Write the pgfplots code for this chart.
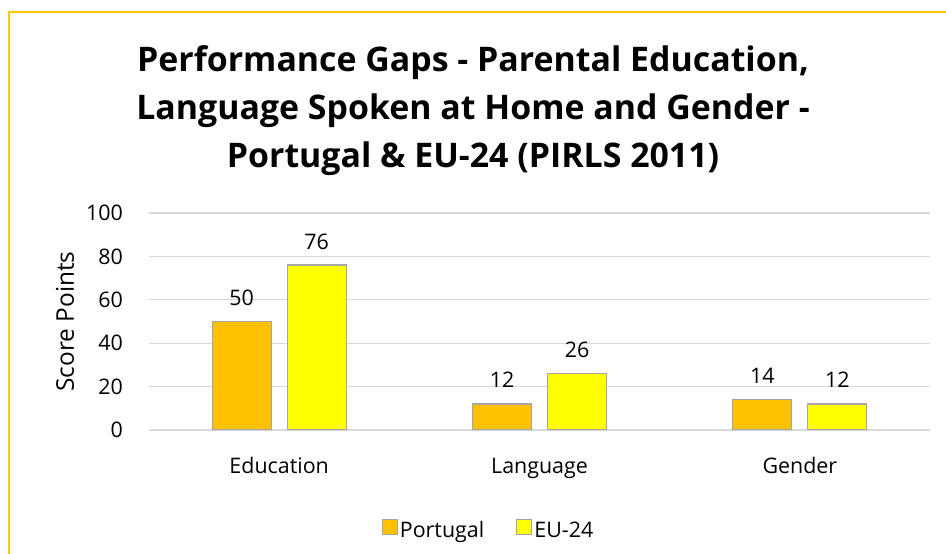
\documentclass[border=0pt]{standalone}
\usepackage{pgfplots}
\pgfplotsset{compat=1.18}
\usepackage{fontspec}
\setmainfont{Open Sans}
\definecolor{framecol}{HTML}{FFC800}
\definecolor{portugal}{HTML}{FFC000}
\definecolor{eu}{HTML}{FFFF00}
\definecolor{barline}{HTML}{A5A5A5}
\definecolor{gridcol}{HTML}{D9D9D9}
\begin{document}
\begin{tikzpicture}[x=1bp,y=1bp]
\useasboundingbox (0,0) rectangle (946,554);
\draw[framecol, line width=2bp] (9,0) -- (9,542) -- (946,542);
\node[anchor=base, font=\fontsize{34}{40}\selectfont\bfseries] at (473,482) {Performance Gaps - Parental Education,};
\node[anchor=base, font=\fontsize{34}{40}\selectfont\bfseries] at (473,434) {Language Spoken at Home and Gender -};
\node[anchor=base, font=\fontsize{34}{40}\selectfont\bfseries] at (473,386) {Portugal \& EU-24 (PIRLS 2011)};
\begin{axis}[
  at={(149bp,124bp)}, anchor=south west,
  scale only axis, width=781bp, height=217bp,
  xmin=-0.5, xmax=2.5, ymin=0, ymax=100,
  ytick={0,20,40,60,80,100},
  xtick={0,1,2}, xticklabels={Education,Language,Gender},
  axis line style={draw=none},
  major tick length=0pt,
  xmajorgrids=false, ymajorgrids=true,
  y grid style={gridcol, line width=1.3bp},
  ybar, bar width=59bp,
  every axis plot post/.append style={legend image code/.code={\draw[##1, line width=1.2bp] (-6bp,-4bp) rectangle (9bp,11bp);}},
  tick label style={font=\fontsize{21.5}{25}\selectfont},
  /pgf/number format/assume math mode=true,
  yticklabel style={anchor=east, inner sep=0pt, xshift=-26bp},
  xticklabel style={anchor=base, inner sep=0pt, yshift=-44bp},
  every axis y label/.style={at={(rel axis cs:-0.1076,0.5)}, rotate=90, anchor=center, font=\fontsize{24.5}{28}\selectfont},
  ylabel={Score Points},
  nodes near coords,
  every node near coord/.append style={anchor=base, inner sep=0pt, yshift=16bp, font=\fontsize{21.5}{25}\selectfont, black},
  legend columns=2,
  legend style={at={(rel axis cs:0.4347,-0.461)}, anchor=center, draw=none, fill=none, font=\fontsize{21.5}{25}\selectfont,
    /tikz/every even column/.append style={column sep=30bp}},
]
\addplot[fill=portugal, draw=barline, line width=1.3bp, bar shift=-37.5bp] coordinates {(0,50) (1,12) (2,14)};
\addplot[fill=eu, draw=barline, line width=1.3bp, bar shift=37.5bp] coordinates {(0,76) (1,26) (2,12)};
\legend{Portugal,EU-24}
\end{axis}
\end{tikzpicture}
\end{document}
